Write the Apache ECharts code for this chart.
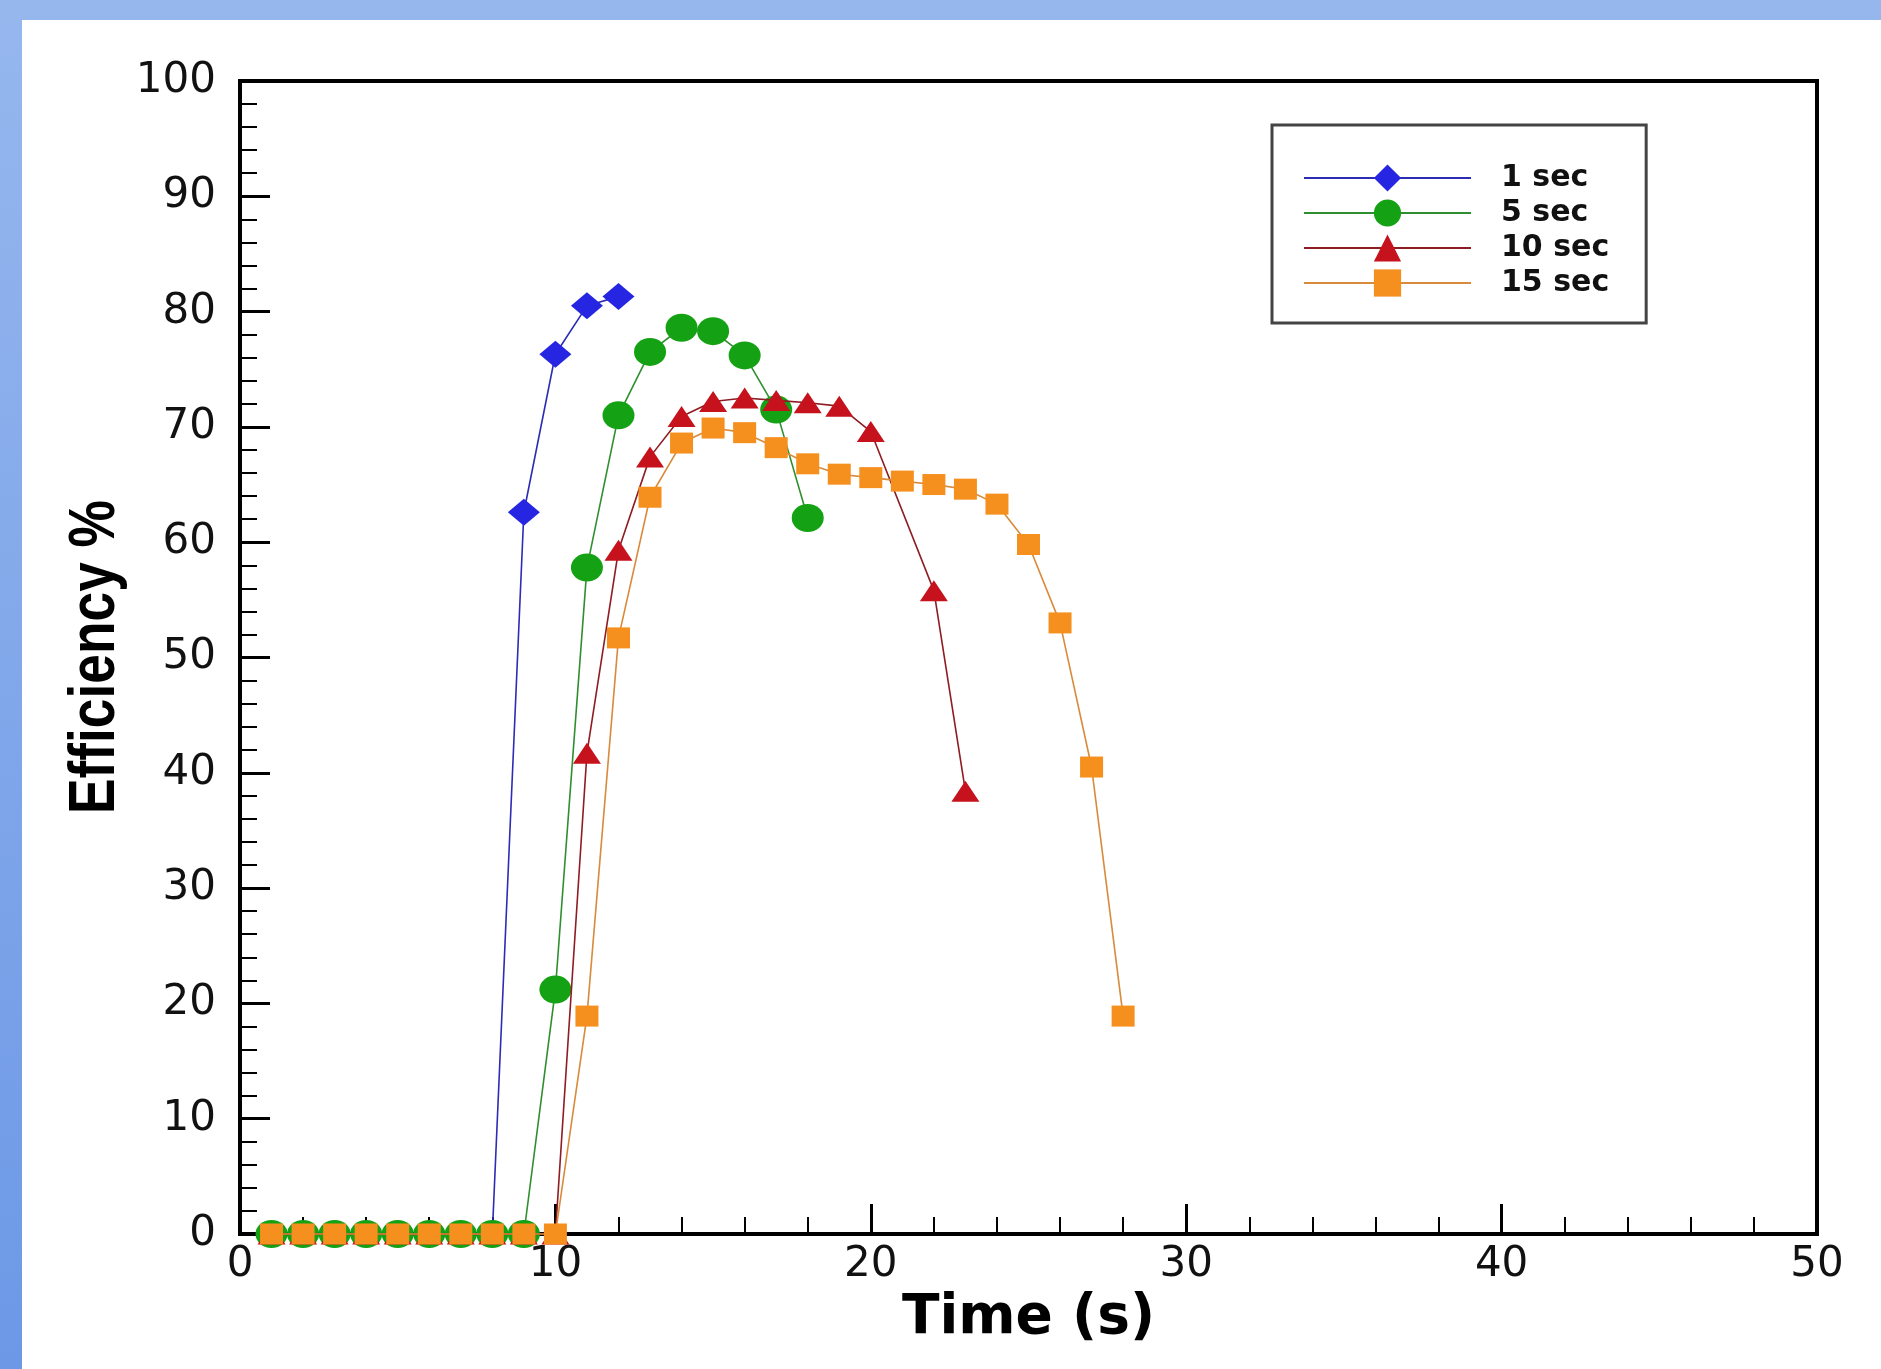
<!DOCTYPE html>
<html>
<head>
<meta charset="utf-8">
<script src="https://cdn.jsdelivr.net/npm/echarts@6/dist/echarts.min.js"></script>
<style>
html,body{margin:0;padding:0;background:#fff;}
#chart{width:1881px;height:1369px;}
</style>
</head>
<body>
<div id="chart"></div>
<script>
// ---- data ----
const xTicks = [0, 10, 20, 30, 40, 50];
const seriesNames = ['1 sec', '5 sec', '10 sec', '15 sec'];
const xTitle = 'Time (s)';
const yTitle = 'Efficiency %';

const time1 = [1, 2, 3, 4, 5, 6, 7, 8, 9, 10, 11, 12];
const eff1  = [0, 0, 0, 0, 0, 0, 0, 0, 62.6, 76.3, 80.5, 81.3];

const time5 = [1, 2, 3, 4, 5, 6, 7, 8, 9, 10, 11, 12, 13, 14, 15, 16, 17, 18];
const eff5  = [0, 0, 0, 0, 0, 0, 0, 0, 0, 21.2, 57.8, 71.0, 76.5, 78.6, 78.3, 76.2, 71.5, 62.1];

const time10 = [1, 2, 3, 4, 5, 6, 7, 8, 9, 10, 11, 12, 13, 14, 15, 16, 17, 18, 19, 20, 22, 23];
const eff10  = [0, 0, 0, 0, 0, 0, 0, 0, 0, 0, 41.7, 59.3, 67.4, 70.9, 72.2, 72.5, 72.3, 72.1, 71.8, 69.6, 55.8, 38.4];

const time15 = [1, 2, 3, 4, 5, 6, 7, 8, 9, 10, 11, 12, 13, 14, 15, 16, 17, 18, 19, 20, 21, 22, 23, 24, 25, 26, 27, 28];
const eff15  = [0, 0, 0, 0, 0, 0, 0, 0, 0, 0, 18.9, 51.7, 63.9, 68.6, 69.9, 69.5, 68.2, 66.8, 65.9, 65.6, 65.3, 65.0, 64.6, 63.3, 59.8, 53.0, 40.5, 18.9];

function pairs(xs, ys) { return xs.map((x, i) => [x, ys[i]]); }

const chart = echarts.init(document.getElementById('chart'), null, {renderer: 'canvas'});

const tickFont = 'DejaVu Sans';

function lineSeries(name, data, symbol, size, markerColor, lineColor, z) {
  return {
    name: name,
    type: 'line',
    data: data,
    symbol: symbol,
    symbolSize: size,
    showAllSymbol: true,
    clip: false,
    z: z,
    itemStyle: {color: markerColor, opacity: 1},
    lineStyle: {color: lineColor, width: 1.6},
    emphasis: {disabled: true},
    animation: false
  };
}

const option = {
  backgroundColor: '#ffffff',
  animation: false,
  graphic: [
    {type: 'rect', shape: {x: 0, y: 0, width: 1881, height: 20}, style: {fill: '#96b7ee'}, z: -10},
    {type: 'rect', shape: {x: 0, y: 0, width: 22, height: 1369},
     style: {fill: new echarts.graphic.LinearGradient(0, 0, 0, 1, [
       {offset: 0, color: '#96b7ee'}, {offset: 1, color: '#6c98e6'}])}, z: -10},
    {type: 'text', x: 96, y: 657, rotation: Math.PI / 2, scaleX: 0.82, scaleY: 1,
     style: {text: yTitle, font: 'bold 65px "Liberation Sans", Arial, sans-serif', fill: '#000',
             textAlign: 'center', textVerticalAlign: 'middle'}, z: 10}
  ],
  grid: {left: 240, right: 64, top: 81, bottom: 135, show: true, borderColor: '#000', borderWidth: 4, backgroundColor: 'transparent'},
  legend: {
    orient: 'vertical',
    left: 1272, top: 125,
    data: seriesNames,
    itemWidth: 167, itemHeight: 34, itemGap: 5,
    padding: [38, 37, 25, 31],
    borderColor: '#444', borderWidth: 3,
    backgroundColor: '#fff',
    textStyle: {fontFamily: 'DejaVu Sans', fontWeight: 'bold', fontSize: 30, color: '#111', padding: [0, 0, 0, 25]},
    selectedMode: false
  },
  xAxis: {
    type: 'value', min: 0, max: 50, interval: 10,
    axisLine: {show: true, onZero: false, lineStyle: {color: '#000', width: 4}},
    axisTick: {show: true, inside: true, length: 30, lineStyle: {color: '#000', width: 3}},
    minorTick: {show: true, splitNumber: 5, length: 17, lineStyle: {color: '#000', width: 2}},
    splitLine: {show: false},
    axisLabel: {margin: 10, fontSize: 42, fontFamily: tickFont, color: '#111',
      formatter: v => xTicks.includes(v) ? String(v) : ''},
    name: xTitle, nameLocation: 'middle', nameGap: 52,
    nameTextStyle: {fontFamily: 'DejaVu Sans', fontWeight: 'bold', fontSize: 55, color: '#000'}
  },
  yAxis: {
    type: 'value', min: 0, max: 100, interval: 10,
    axisLine: {show: true, onZero: false, lineStyle: {color: '#000', width: 4}},
    axisTick: {show: true, inside: true, length: 30, lineStyle: {color: '#000', width: 3}},
    minorTick: {show: true, splitNumber: 5, length: 17, lineStyle: {color: '#000', width: 2}},
    splitLine: {show: false},
    axisLabel: {margin: 24, fontSize: 42, fontFamily: tickFont, color: '#111'}
  },
  series: [
    lineSeries(seriesNames[0], pairs(time1, eff1), 'diamond', [32, 27], '#2626e2', '#2c2cb4', 2),
    lineSeries(seriesNames[1], pairs(time5, eff5), 'circle', [32, 28], '#14a114', '#2f8f2f', 2),
    lineSeries(seriesNames[2], pairs(time10, eff10), 'triangle', [28, 21], '#c5121c', '#8e1c22', 3),
    lineSeries(seriesNames[3], pairs(time15, eff15), 'rect', [23, 21], '#f58f1e', '#d98a3a', 4)
  ]
};

chart.setOption(option);
</script>
</body>
</html>
